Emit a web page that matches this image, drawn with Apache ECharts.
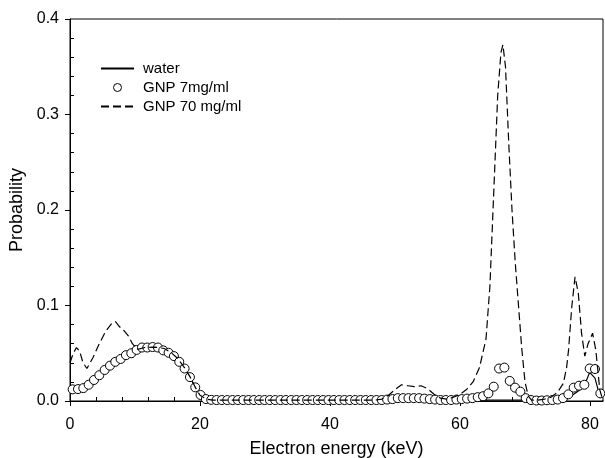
<!DOCTYPE html>
<html lang="en">

<head>
  <meta charset="UTF-8">
  <title>Electron energy spectrum</title>
  <style>
    html, body { margin: 0; padding: 0; background: #fff; }
    #chart { width: 605px; height: 458px; }
  </style>
</head>

<body>
  <div id="chart"></div>
  <script src="https://cdn.jsdelivr.net/npm/echarts@6/dist/echarts.min.js"></script>
  <script>
    // bin centres (keV), shared by water and GNP 7mg/ml
    var energy = [
      0.41, 1.23, 2.05, 2.87, 3.69, 4.51, 5.33, 6.15, 6.97, 7.79,
      8.61, 9.43, 10.25, 11.07, 11.89, 12.71, 13.53, 14.35, 15.17, 15.99,
      16.81, 17.63, 18.45, 19.27, 20.09, 20.91, 21.73, 22.55, 23.37, 24.19,
      25.01, 25.83, 26.65, 27.47, 28.29, 29.11, 29.93, 30.75, 31.57, 32.39,
      33.21, 34.03, 34.85, 35.67, 36.49, 37.31, 38.13, 38.95, 39.77, 40.59,
      41.41, 42.23, 43.05, 43.87, 44.69, 45.51, 46.33, 47.15, 47.97, 48.79,
      49.61, 50.43, 51.25, 52.07, 52.89, 53.71, 54.53, 55.35, 56.17, 56.99,
      57.81, 58.63, 59.45, 60.27, 61.09, 61.91, 62.73, 63.55, 64.37, 65.19,
      66.01, 66.83, 67.65, 68.47, 69.29, 70.11, 70.93, 71.75, 72.57, 73.39,
      74.21, 75.03, 75.85, 76.67, 77.49, 78.31, 79.13, 79.95, 80.77, 81.59
    ];

    var water = [
      0.0122, 0.0125, 0.0135, 0.017, 0.022, 0.027, 0.0325, 0.037, 0.041, 0.044,
      0.048, 0.050, 0.0535, 0.056, 0.056, 0.0565, 0.056, 0.053, 0.0505, 0.047,
      0.041, 0.034, 0.025, 0.0143, 0.0063, 0.002, 0.0012, 0.001, 0.001, 0.001,
      0.001, 0.001, 0.001, 0.001, 0.001, 0.001, 0.001, 0.001, 0.001, 0.001,
      0.001, 0.001, 0.001, 0.001, 0.001, 0.001, 0.001, 0.001, 0.001, 0.001,
      0.001, 0.001, 0.001, 0.001, 0.001, 0.001, 0.001, 0.001, 0.001, 0.0015,
      0.002, 0.003, 0.003, 0.003, 0.003, 0.003, 0.0025, 0.002, 0.0015, 0.001,
      0.001, 0.001, 0.0015, 0.0015, 0.0015, 0.0015, 0.001, 0.001, 0.001, 0.001,
      0.001, 0.001, 0.001, 0.001, 0.001, 0.001, 0.0008, 0.0005, 0.0005, 0.0008,
      0.001, 0.0015, 0.002, 0.004, 0.007, 0.011, 0.016, 0.030, 0.024, 0.003
    ];

    var gnp7 = [
      0.0122, 0.0125, 0.0135, 0.017, 0.022, 0.027, 0.0325, 0.037, 0.041, 0.044,
      0.048, 0.050, 0.0535, 0.056, 0.056, 0.0565, 0.056, 0.053, 0.0505, 0.047,
      0.041, 0.034, 0.025, 0.0143, 0.0063, 0.002, 0.0012, 0.001, 0.001, 0.001,
      0.001, 0.001, 0.001, 0.001, 0.001, 0.001, 0.001, 0.001, 0.001, 0.001,
      0.001, 0.001, 0.001, 0.001, 0.001, 0.001, 0.001, 0.001, 0.001, 0.001,
      0.001, 0.001, 0.001, 0.001, 0.001, 0.001, 0.001, 0.001, 0.001, 0.0015,
      0.002, 0.003, 0.003, 0.003, 0.003, 0.003, 0.0025, 0.002, 0.0015, 0.001,
      0.001, 0.001, 0.0015, 0.002, 0.0025, 0.003, 0.004, 0.005, 0.008, 0.015,
      0.034, 0.035, 0.021, 0.014, 0.0098, 0.003, 0.001, 0.0005, 0.0005, 0.0008,
      0.001, 0.0015, 0.003, 0.007, 0.014, 0.016, 0.017, 0.034, 0.0335, 0.008
    ];

    // GNP 70 mg/ml curve, read at its own (uneven) energies
    var gnp70E = [
      0, 0.5, 1.0, 1.5, 2.0, 2.6, 3.5, 4.5, 5.5, 6.5,
      7.0, 7.6, 8.4, 9.0, 9.6, 10.4, 11.5, 13.0, 14.5, 15.5,
      16.5, 17.5, 18.5, 19.3, 20.0, 21.0, 22.0, 30.0, 40.0, 47.0,
      48.0, 49.0, 50.0, 51.0, 52.0, 53.0, 54.0, 55.0, 56.0, 57.0,
      58.0, 59.0, 60.0, 61.0, 62.0, 63.0, 64.0, 64.6, 65.2, 65.8,
      66.3, 66.6, 67.0, 67.5, 68.0, 68.5, 69.0, 69.5, 70.0, 70.5,
      71.0, 72.0, 73.0, 74.0, 75.0, 75.9, 76.4, 76.7, 77.2, 77.7,
      78.2, 78.7, 79.2, 79.7, 80.4, 80.9, 81.5, 82.0
    ];
    var gnp70P = [
      0.040, 0.050, 0.056, 0.052, 0.040, 0.034, 0.045, 0.060, 0.073, 0.082,
      0.083, 0.078, 0.073, 0.068, 0.060, 0.054, 0.056, 0.0565, 0.055, 0.051,
      0.045, 0.036, 0.025, 0.014, 0.006, 0.002, 0.001, 0.001, 0.001, 0.001,
      0.002, 0.006, 0.012, 0.017, 0.016, 0.015, 0.016, 0.013, 0.007, 0.003,
      0.002, 0.004, 0.007, 0.012, 0.020, 0.035, 0.065, 0.12, 0.22, 0.32,
      0.365, 0.373, 0.35, 0.27, 0.20, 0.145, 0.10, 0.055, 0.02, 0.005,
      0.001, 0.001, 0.002, 0.004, 0.009, 0.0185, 0.035, 0.0535, 0.099, 0.130,
      0.113, 0.071, 0.047, 0.06, 0.071, 0.053, 0.012, 0.0
    ];

    var xMajor = [0, 20, 40, 60, 80];
    var xMinor = [4, 8, 12, 16, 24, 28, 32, 36, 44, 48, 52, 56, 64, 68, 72, 76];

    function pairs(xs, ys) {
      return xs.map(function (x, i) { return [x, ys[i]]; });
    }

    var font = 'Liberation Sans, Arial, sans-serif';
    var chart = echarts.init(document.getElementById('chart'), null, { renderer: 'canvas' });

    var option = {
      animation: false,
      backgroundColor: '#fff',
      textStyle: { fontFamily: font, color: '#000' },
      grid: {
        left: 70, right: 2, top: 19, bottom: 57,
        outerBoundsMode: 'none',
        containLabel: false,
        show: true, borderColor: '#000', borderWidth: 1, backgroundColor: '#fff'
      },
      legend: {
        orient: 'vertical',
        left: 95,
        top: 56,
        itemWidth: 33,
        itemHeight: 8,
        itemGap: 4,
        textStyle: { fontSize: 15, color: '#000', fontFamily: font, padding: [0, 0, 0, 4] },
        data: [
          { name: 'water', itemStyle: { opacity: 0 } },
          { name: 'GNP 7mg/ml', itemStyle: { borderWidth: 1 } },
          { name: 'GNP 70 mg/ml', itemStyle: { opacity: 0 } }
        ]
      },
      xAxis: [{
        type: 'value', min: 0, max: 82, interval: 20,
        name: 'Electron energy (keV)', nameLocation: 'middle', nameGap: 39,
        nameTextStyle: { fontSize: 18, color: '#000', fontFamily: font },
        axisLine: { lineStyle: { color: '#000', width: 1 } },
        axisTick: { inside: false, length: 5, customValues: xMajor, lineStyle: { color: '#000' } },
        axisLabel: {
          margin: 16, fontSize: 16, color: '#000', fontFamily: font,
          formatter: function (v) { return v % 20 === 0 ? String(v) : ''; }
        },
        splitLine: { show: false }
      }, {
        type: 'value', min: 0, max: 82, position: 'bottom',
        axisLine: { show: false },
        axisTick: { show: true, inside: true, length: 4, customValues: xMinor, lineStyle: { color: '#000' } },
        axisLabel: { show: false },
        splitLine: { show: false }
      }],
      yAxis: [{
        type: 'value', min: 0, max: 0.4, interval: 0.1,
        name: 'Probability', nameLocation: 'middle', nameGap: 33, nameRotate: 90,
        nameTextStyle: { fontSize: 18, color: '#000', fontFamily: font },
        axisLine: { show: true, lineStyle: { color: '#000', width: 1 } },
        axisTick: { show: true, inside: false, length: 5, lineStyle: { color: '#000' } },
        axisLabel: {
          margin: 11, fontSize: 16, color: '#000', fontFamily: font,
          formatter: function (v) { return v.toFixed(1); }
        },
        splitLine: { show: false }
      }, {
        type: 'value', min: 0, max: 0.4, interval: 0.1, position: 'left',
        axisLine: { show: false },
        axisTick: { show: false, inside: true },
        minorTick: { show: true, splitNumber: 5, length: 4, lineStyle: { color: '#000' } },
        axisLabel: { show: false },
        splitLine: { show: false }
      }],
      series: [{
        name: 'water',
        type: 'line',
        z: 2,
        symbol: 'none',
        lineStyle: { color: '#000', width: 1.2 },
        itemStyle: { color: '#000' },
        data: pairs(energy, water)
      }, {
        name: 'GNP 7mg/ml',
        type: 'scatter',
        z: 3,
        symbol: 'circle',
        symbolSize: 9,
        itemStyle: { color: '#fff', borderColor: '#000', borderWidth: 1, opacity: 1 },
        data: pairs(energy, gnp7)
      }, {
        name: 'GNP 70 mg/ml',
        type: 'line',
        z: 4,
        symbol: 'none',
        lineStyle: { color: '#000', width: 1.2, type: [8, 4] },
        itemStyle: { color: '#000' },
        data: pairs(gnp70E, gnp70P)
      }]
    };
    chart.setOption(option);
  </script>
</body>

</html>
